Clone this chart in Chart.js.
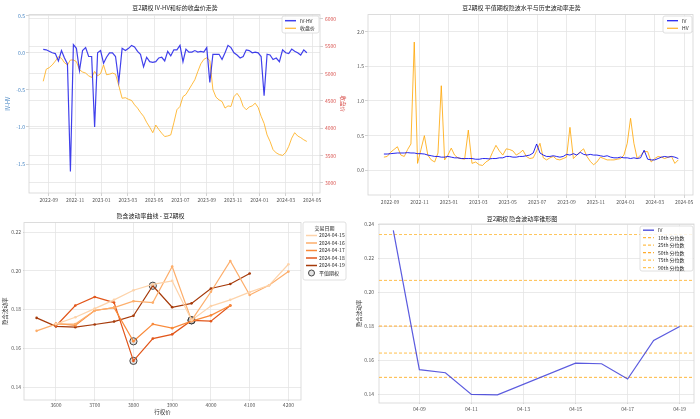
<!DOCTYPE html>
<html>
<head>
<meta charset="utf-8">
<script src="https://cdn.jsdelivr.net/npm/chart.js@4.4.0/dist/chart.umd.min.js"></script>
<style>
body { margin: 0; background: #fff; }
canvas { position: absolute; }
</style>
</head>
<body>
<canvas id="iv-hv-price" width="350" height="210" style="left:0;top:0"></canvas>
<canvas id="iv-hv-trend" width="350" height="210" style="left:350px;top:0"></canvas>
<canvas id="smile" width="350" height="209" style="left:0;top:210px"></canvas>
<canvas id="cone" width="350" height="209" style="left:350px;top:210px"></canvas>
<script>
// weekly samples
var weekDates = ['2022-08-19','2022-08-26','2022-09-02','2022-09-09','2022-09-16','2022-09-23','2022-09-30','2022-10-07','2022-10-14','2022-10-21',
    '2022-10-28','2022-11-04','2022-11-11','2022-11-18','2022-11-25','2022-12-02','2022-12-09','2022-12-16','2022-12-23','2022-12-30',
    '2023-01-06','2023-01-13','2023-01-20','2023-01-27','2023-02-03','2023-02-10','2023-02-17','2023-02-24','2023-03-03','2023-03-10',
    '2023-03-17','2023-03-24','2023-03-31','2023-04-07','2023-04-14','2023-04-21','2023-04-28','2023-05-05','2023-05-12','2023-05-19',
    '2023-05-26','2023-06-02','2023-06-09','2023-06-16','2023-06-23','2023-06-30','2023-07-07','2023-07-14','2023-07-21','2023-07-28',
    '2023-08-04','2023-08-11','2023-08-18','2023-08-25','2023-09-01','2023-09-08','2023-09-15','2023-09-22','2023-09-29','2023-10-06',
    '2023-10-13','2023-10-20','2023-10-27','2023-11-03','2023-11-10','2023-11-17','2023-11-24','2023-12-01','2023-12-08','2023-12-15',
    '2023-12-22','2023-12-29','2024-01-05','2024-01-12','2024-01-19','2024-01-26','2024-02-02','2024-02-09','2024-02-16','2024-02-23',
    '2024-03-01','2024-03-08','2024-03-15','2024-03-22','2024-03-29','2024-04-05','2024-04-12','2024-04-19'];

var ivHv = [0.046, 0.04, 0.02, 0.0, -0.01, -0.11, 0.03, -0.07, -0.15, -1.6,
    0.11, 0.06, -0.24, 0.03, 0.07, -0.05, -0.05, -1.0, 0.0, 0.03,
    -0.14, -0.06, 0.0, 0.0, -0.05, -0.39, 0.06, 0.03, 0.06, 0.1,
    0.08, 0.02, -0.02, -0.19, -0.06, -0.12, -0.13, -0.12, -0.07, -0.06,
    -0.11, 0.02, -0.04, 0.04, 0.04, 0.1, -0.12, 0.05, 0.01, 0.01,
    0.03, 0.01, 0.02, 0.01, 0.07, -0.40, -0.02, -0.02, -0.02, -0.09,
    0.0, 0.1, 0.07, 0.0, -0.03, -0.07, -0.05, 0.04, 0.03, 0.0,
    0.01, 0.0, -0.05, -0.58, -0.02, -0.03, -0.09, -0.07, -0.12, 0.04,
    0.0, -0.01, 0.05, 0.02, 0.0, -0.03, 0.04, 0.0];

var closePrice = [4860, 5080, 5110, 5160, 5230, 5310, 5280, 5200, 5160, 5250,
    5250, 5220, 5070, 5030, 5010, 4960, 4930, 5040, 4960, 5000,
    5160, 4980, 4990, 5010, 4990, 4780, 4550, 4560, 4530, 4510,
    4430, 4370, 4290, 4220, 4110, 4020, 3920, 4060, 3980, 3910,
    3850, 3860, 3880, 4100, 4340, 4400, 4580, 4620, 4710, 4800,
    4890, 5040, 5180, 5260, 5290, 5240, 4710, 4570, 4520, 4490,
    4370, 4410, 4400, 4580, 4640, 4560, 4400, 4340, 4390, 4410,
    4460, 4380, 4220, 4090, 3880, 3760, 3610, 3550, 3520, 3505,
    3560, 3670, 3820, 3920, 3860, 3830, 3790, 3760];

var ivAtm = [0.235, 0.235, 0.24, 0.245, 0.25, 0.25, 0.25, 0.255, 0.25, 0.25,
    0.24, 0.24, 0.235, 0.22, 0.21, 0.2, 0.2, 0.19, 0.19, 0.2,
    0.19, 0.18, 0.18, 0.17, 0.17, 0.17, 0.17, 0.16, 0.16, 0.17,
    0.17, 0.165, 0.17, 0.17, 0.18, 0.18, 0.2, 0.2, 0.19, 0.19,
    0.2, 0.2, 0.21, 0.22, 0.25, 0.38, 0.25, 0.22, 0.2, 0.2,
    0.21, 0.2, 0.19, 0.2, 0.23, 0.22, 0.24, 0.22, 0.26, 0.23,
    0.22, 0.23, 0.22, 0.22, 0.21, 0.2, 0.21, 0.19, 0.18, 0.18,
    0.19, 0.18, 0.18, 0.17, 0.18, 0.17, 0.18, 0.29, 0.16, 0.15,
    0.15, 0.17, 0.19, 0.2, 0.19, 0.2, 0.19, 0.17];

var hvAtm = [0.19, 0.20, 0.26, 0.30, 0.34, 0.22, 0.20, 0.30, 0.38, 1.85,
    0.10, 0.30, 0.50, 0.22, 0.15, 0.12, 0.25, 1.22, 0.15, 0.22,
    0.32, 0.22, 0.18, 0.17, 0.16, 0.58, 0.10, 0.12, 0.08, 0.07,
    0.12, 0.15, 0.26, 0.36, 0.28, 0.22, 0.31, 0.30, 0.28, 0.22,
    0.25, 0.29, 0.20, 0.17, 0.18, 0.28, 0.39, 0.18, 0.15, 0.18,
    0.20, 0.16, 0.15, 0.17, 0.19, 0.62, 0.17, 0.22, 0.27, 0.31,
    0.20, 0.13, 0.08, 0.12, 0.19, 0.17, 0.15, 0.15, 0.15, 0.16,
    0.17, 0.22, 0.39, 0.75, 0.39, 0.17, 0.22, 0.27, 0.27, 0.12,
    0.17, 0.20, 0.19, 0.17, 0.19, 0.20, 0.10, 0.15];

var timeTickLabels = ['2022-09', '2022-11', '2023-01', '2023-03', '2023-05', '2023-07', '2023-09', '2023-11', '2024-01', '2024-03', '2024-05'];
var ivHvTicks = [-1.5, -1.0, -0.5, 0.0, 0.5];
var priceTicks = [3000, 3500, 4000, 4500, 5000, 5500, 6000];
var volTicks = [0.0, 0.5, 1.0, 1.5, 2.0];

// smile
var strikes = [3550, 3600, 3650, 3700, 3750, 3800, 3850, 3900, 3950, 4000, 4050, 4100, 4150, 4200];
var smileDates = ['2024-04-15', '2024-04-16', '2024-04-17', '2024-04-18', '2024-04-19'];
var smile0415 = [null, 0.1725, 0.176, 0.1805, 0.185, 0.190, 0.193, 0.1948, 0.1745, 0.1818, 0.185, 0.189, 0.1925, 0.2034];
var smile0416 = [0.169, 0.1725, 0.1725, 0.1795, 0.181, 0.1843, 0.1836, 0.2022, 0.1744, 0.1892, 0.2051, 0.1875, 0.1925, 0.1996];
var smile0417 = [null, 0.1728, 0.1718, 0.1795, 0.181, 0.1636, 0.1725, 0.1704, 0.174, 0.177, 0.1821, null, null, null];
var smile0418 = [null, 0.1715, 0.1821, 0.1865, 0.1836, 0.1535, 0.165, 0.1672, 0.1744, 0.174, 0.1821, null, null, null];
var smile0419 = [0.1757, 0.1713, 0.1709, 0.1723, 0.1738, 0.1768, 0.1923, 0.1812, 0.1832, 0.1909, 0.1932, 0.1986, null, null];
var atmStrikes = [3950, 3950, 3800, 3800, 3850];
var strikeTicks = [3600, 3700, 3800, 3900, 4000, 4100, 4200];
var smileYTicks = [0.14, 0.16, 0.18, 0.20, 0.22];

// cone
var coneDates = ['04-08', '04-09', '04-10', '04-11', '04-12', '04-15', '04-16', '04-17', '04-18', '04-19'];
var coneIv = [0.2365, 0.1545, 0.1527, 0.1400, 0.1397, 0.1584, 0.1580, 0.1490, 0.1717, 0.1800];
var quantileNames = ['10th', '25th', '50th', '75th', '90th'];
var quantileValues = [0.1500, 0.1643, 0.1802, 0.2071, 0.2341];
var coneTickLabels = ['04-09', '04-11', '04-13', '04-15', '04-17', '04-19'];
var coneYTicks = [0.14, 0.16, 0.18, 0.20, 0.22, 0.24];

var FONT = "'Noto Sans CJK SC', 'DejaVu Sans', sans-serif";
Chart.defaults.font.family = FONT;
Chart.defaults.font.size = 5;
Chart.defaults.color = '#555';
Chart.defaults.animation = false;
Chart.defaults.plugins.legend.display = false;
Chart.defaults.plugins.tooltip.enabled = false;

function monthPos(d) {
    var p = d.split('-').map(Number);
    var day = p[2] || 1;
    var dim = new Date(p[0], p[1], 0).getDate();
    return (p[0] - 2022) * 12 + (p[1] - 1) + (day - 1) / dim;
}
function dayPos(d) { return Number(d.split('-')[1]); }

function fixedTicks(values) {
    return function(scale) { scale.ticks = values.map(function(v) { return {value: v}; }); };
}
function grid(tick) {
    return {color: '#e4e4e4', lineWidth: 0.8, tickLength: tick, tickColor: '#c8c8c8'};
}
function axisTitle(text, color, pad) {
    return {display: true, text: text, color: color || '#333', font: {size: 5.5}, padding: pad};
}
function chartTitle(text, top, bottom) {
    return {display: true, text: text, color: '#222', font: {size: 6, weight: 'normal'}, padding: {top: top, bottom: bottom}};
}

var framePlugin = {
    id: 'frame',
    beforeDatasetsDraw: function(chart) {
        var a = chart.chartArea, ctx = chart.ctx;
        ctx.save();
        ctx.strokeStyle = '#d4d4d4';
        ctx.lineWidth = 0.8;
        ctx.strokeRect(a.left, a.top, a.right - a.left, a.bottom - a.top);
        ctx.restore();
    }
};

// framed legend like matplotlib's, items taken from the datasets
var boxLegend = {
    id: 'boxLegend',
    afterDraw: function(chart, args, o) {
        if (!o.w) return;
        var ctx = chart.ctx;
        var items = chart.data.datasets.filter(function(d) { return d.label; });
        ctx.save();
        ctx.fillStyle = 'rgba(255,255,255,0.85)';
        ctx.strokeStyle = '#d8d8d8';
        ctx.lineWidth = 0.8;
        ctx.beginPath();
        ctx.roundRect(o.x, o.y, o.w, o.h, 2);
        ctx.fill();
        ctx.stroke();
        ctx.font = '5px ' + FONT;
        ctx.textBaseline = 'middle';
        var y = o.y + o.first;
        if (o.title) {
            ctx.fillStyle = '#222';
            ctx.textAlign = 'center';
            ctx.fillText(o.title, o.x + o.w / 2, y);
            y += o.row;
        }
        ctx.textAlign = 'left';
        items.forEach(function(d) {
            var x0 = o.x + o.pad;
            if (d.showLine === false) {
                ctx.beginPath();
                ctx.arc(x0 + 5.5, y, 3, 0, 2 * Math.PI);
                ctx.fillStyle = d.pointBackgroundColor;
                ctx.fill();
                ctx.strokeStyle = d.pointBorderColor;
                ctx.lineWidth = d.pointBorderWidth;
                ctx.stroke();
            } else {
                ctx.beginPath();
                ctx.setLineDash(d.borderDash || []);
                ctx.strokeStyle = d.borderColor;
                ctx.lineWidth = d.borderWidth + 0.3;
                ctx.moveTo(x0, y);
                ctx.lineTo(x0 + 11, y);
                ctx.stroke();
                ctx.setLineDash([]);
            }
            ctx.fillStyle = '#222';
            ctx.fillText(d.label, x0 + 11 + o.gap, y);
            y += o.row;
        });
        ctx.restore();
    }
};

function weekly(values) {
    return weekDates.map(function(d, i) { return {x: monthPos(d), y: values[i]}; });
}
function timeAxis(height) {
    return {
        type: 'linear', min: 6.5, max: 28.6,
        afterBuildTicks: fixedTicks(timeTickLabels.map(monthPos)),
        ticks: {callback: function(v, i) { return timeTickLabels[i]; }, maxRotation: 0, autoSkip: false, padding: 1},
        grid: grid(3), border: {display: false},
        afterFit: function(s) { s.height = height; }
    };
}

// 1: IV-HV and close price
new Chart(document.getElementById('iv-hv-price'), {
    type: 'line',
    data: {
        datasets: [{
            label: 'IV-HV', data: weekly(ivHv), yAxisID: 'y',
            borderColor: 'rgba(0, 0, 230, 0.75)', borderWidth: 1.2, pointRadius: 0
        }, {
            label: '收盘价', data: weekly(closePrice), yAxisID: 'y1',
            borderColor: 'rgba(255, 165, 0, 0.75)', borderWidth: 1, pointRadius: 0
        }]
    },
    options: {
        responsive: false,
        plugins: {
            title: chartTitle('豆2期权 IV-HV和标的收盘价走势', 4.4, 3),
            boxLegend: {x: 282, y: 16, w: 37, h: 17, first: 4.7, row: 7.6, pad: 3, gap: 4}
        },
        scales: {
            x: timeAxis(17),
            y: {
                position: 'left', min: -1.89, max: 0.515,
                afterBuildTicks: fixedTicks(ivHvTicks),
                ticks: {callback: function(v) { return v.toFixed(1); }, color: '#3d7fc0', padding: 1},
                title: axisTitle('IV-HV', '#3d7fc0', {top: 4.7, bottom: 0}),
                grid: grid(3), border: {display: false},
                afterFit: function(s) { s.width = 29; }
            },
            y1: {
                position: 'right', min: 2817, max: 6080,
                afterBuildTicks: fixedTicks(priceTicks),
                ticks: {callback: function(v) { return String(v); }, color: '#d9534f', padding: 2},
                title: axisTitle('收盘价', '#d9534f', {top: 3.7, bottom: 0}),
                grid: grid(3), border: {display: false},
                afterFit: function(s) { s.width = 30; }
            }
        }
    },
    plugins: [framePlugin, boxLegend]
});

// 2: ATM IV vs HV
new Chart(document.getElementById('iv-hv-trend'), {
    type: 'line',
    data: {
        datasets: [{
            label: 'IV', data: weekly(ivAtm),
            borderColor: 'rgba(0, 0, 235, 0.85)', borderWidth: 1, pointRadius: 0
        }, {
            label: 'HV', data: weekly(hvAtm),
            borderColor: 'rgba(255, 165, 0, 0.8)', borderWidth: 1, pointRadius: 0
        }]
    },
    options: {
        responsive: false,
        layout: {padding: {right: 7}},
        plugins: {
            title: chartTitle('豆2期权 平值期权隐波水平与历史波动率走势', 4.4, 3),
            boxLegend: {x: 313, y: 16, w: 29, h: 17, first: 4.7, row: 7.6, pad: 4, gap: 4}
        },
        scales: {
            x: timeAxis(15),
            y: {
                min: -0.356, max: 2.246,
                afterBuildTicks: fixedTicks(volTicks),
                ticks: {callback: function(v) { return v.toFixed(1); }, padding: 1},
                grid: grid(3), border: {display: false},
                afterFit: function(s) { s.width = 18; }
            }
        }
    },
    plugins: [framePlugin, boxLegend]
});

// 3: smile curves
var smileSeries = [smile0415, smile0416, smile0417, smile0418, smile0419];
var smileColors = ['#fdd3aa', '#fdae6b', '#f98a3a', '#e2561a', '#a63a0a'];
var smileSets = smileSeries.map(function(s, k) {
    return {
        label: smileDates[k],
        data: strikes.map(function(x, i) { return {x: x, y: s[i]}; }),
        borderColor: smileColors[k], backgroundColor: smileColors[k],
        borderWidth: 1.2, pointRadius: 1.3, pointBorderWidth: 0,
        pointBackgroundColor: smileColors[k], spanGaps: false
    };
});
smileSets.push({
    label: '平值期权',
    data: atmStrikes.map(function(k, j) { return {x: k, y: smileSeries[j][strikes.indexOf(k)]}; }),
    showLine: false, pointRadius: 3.6, pointBorderWidth: 0.9,
    pointBackgroundColor: 'rgba(140,140,140,0.25)', pointBorderColor: '#333'
});

new Chart(document.getElementById('smile'), {
    type: 'line',
    data: {datasets: smileSets},
    options: {
        responsive: false,
        layout: {padding: {right: 49}},
        plugins: {
            title: chartTitle('隐含波动率曲线 - 豆2期权', 2.1, 3.3),
            boxLegend: {x: 303, y: 12, w: 43, h: 58, title: '交易日期', first: 6, row: 7.5, pad: 3, gap: 2}
        },
        scales: {
            x: {
                type: 'linear', min: 3517.5, max: 4232.5,
                afterBuildTicks: fixedTicks(strikeTicks),
                ticks: {callback: function(v) { return String(v); }, maxRotation: 0, padding: 1},
                title: axisTitle('行权价', '#333', {top: 0, bottom: 3.5}),
                grid: grid(1), border: {display: false},
                afterFit: function(s) { s.height = 19; }
            },
            y: {
                min: 0.1333, max: 0.2249,
                afterBuildTicks: fixedTicks(smileYTicks),
                ticks: {callback: function(v) { return v.toFixed(2); }, padding: 2},
                title: axisTitle('隐含波动率', '#333', {top: 1.7, bottom: 0}),
                grid: grid(1), border: {display: false},
                afterFit: function(s) { s.width = 24; }
            }
        }
    },
    plugins: [framePlugin, boxLegend]
});

// 4: volatility cone
var coneXMin = 7.45, coneXMax = 19.55;
var coneSets = [{
    label: 'IV',
    data: coneDates.map(function(d, i) { return {x: dayPos(d), y: coneIv[i]}; }),
    borderColor: 'rgba(50, 50, 215, 0.8)', borderWidth: 1.2, pointRadius: 0
}];
var quantileColors = ['#ffb83d', '#ffbf4d', '#ffab2e', '#ffbf4d', '#ffc65a'];
quantileValues.forEach(function(q, i) {
    coneSets.push({
        label: quantileNames[i] + ' 分位数',
        data: [{x: coneXMin, y: q}, {x: coneXMax, y: q}],
        borderColor: quantileColors[i], borderWidth: 1, borderDash: [3, 2], pointRadius: 0
    });
});

new Chart(document.getElementById('cone'), {
    type: 'line',
    data: {datasets: coneSets},
    options: {
        responsive: false,
        layout: {padding: {right: 6}},
        plugins: {
            title: chartTitle('豆2期权 隐含波动率锥形图', 5.4, 1.4),
            boxLegend: {x: 290, y: 16, w: 53, h: 45, first: 4.2, row: 7.5, pad: 3, gap: 4}
        },
        scales: {
            x: {
                type: 'linear', min: coneXMin, max: coneXMax,
                afterBuildTicks: fixedTicks(coneTickLabels.map(dayPos)),
                ticks: {callback: function(v, i) { return coneTickLabels[i]; }, maxRotation: 0, padding: 2},
                grid: grid(1), border: {display: false},
                afterFit: function(s) { s.height = 16; }
            },
            y: {
                min: 0.1349, max: 0.2403,
                afterBuildTicks: fixedTicks(coneYTicks),
                ticks: {callback: function(v) { return v.toFixed(2); }, padding: 4},
                title: axisTitle('隐含波动率', '#333', {top: 5.7, bottom: 0}),
                grid: grid(1), border: {display: false},
                afterFit: function(s) { s.width = 29; }
            }
        }
    },
    plugins: [framePlugin, boxLegend]
});
</script>
</body>
</html>
